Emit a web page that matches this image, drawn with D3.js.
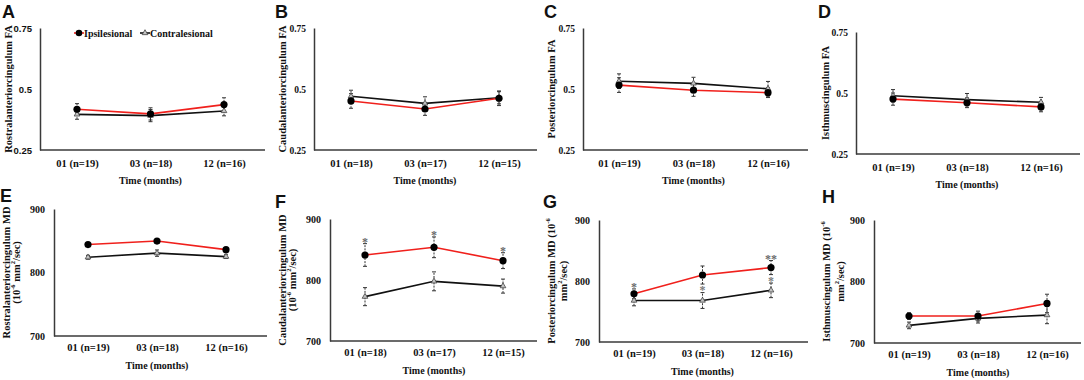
<!DOCTYPE html>
<html><head><meta charset="utf-8">
<script src="https://cdn.jsdelivr.net/npm/d3@7"></script>
<style>body{margin:0;background:#fff}svg{display:block}</style>
</head><body>
<script>
// ---------- data ----------
const catsA = ["01 (n=19)", "03 (n=18)", "12 (n=16)"];
const catsB = ["01 (n=18)", "03 (n=17)", "12 (n=15)"];
const faTicks = [0.25, 0.5, 0.75];
const mdTicks = [700, 800, 900];
const seriesNames = ["Ipsilesional", "Contralesional"];

const ipsiA = [0.417, 0.398, 0.436], contraA = [0.396, 0.391, 0.410];
const ipsiErrA = [0.023, 0.025, 0.028], contraErrA = [0.020, 0.025, 0.020];
const ipsiB = [0.451, 0.418, 0.462], contraB = [0.470, 0.441, 0.464];
const ipsiErrB = [0.030, 0.026, 0.030], contraErrB = [0.025, 0.027, 0.025];
const ipsiC = [0.516, 0.495, 0.485], contraC = [0.532, 0.523, 0.501];
const ipsiErrC = [0.030, 0.025, 0.020], contraErrC = [0.030, 0.025, 0.030];
const ipsiD = [0.475, 0.460, 0.443], contraD = [0.489, 0.473, 0.462];
const ipsiErrD = [0.025, 0.020, 0.020], contraErrD = [0.025, 0.025, 0.020];
const ipsiE = [844, 849.5, 836], contraE = [824, 830.5, 825];
const ipsiErrE = [3, 3, 3], contraErrE = [3, 5, 3];
const ipsiF = [841, 853.6, 831.7], contraF = [772.7, 797.8, 790];
const ipsiErrF = [18.6, 17, 13], contraErrF = [14.8, 15.5, 11.5];
const ipsiG = [779, 809.8, 822], contraG = [768, 768, 784.7];
const ipsiErrG = [8, 14.8, 11.5], contraErrG = [8.7, 13, 12];
const ipsiH = [743.8, 743.8, 764.3], contraH = [728.6, 740, 745.4];
const ipsiErrH = [5.4, 8, 15], contraErrH = [5.4, 7.5, 14];

const sigAboveF = ["*", "*", "*"];
const sigAboveG = ["*", "", "**"];
const sigBelowG = ["", "*", "*"];

const titleA = ["Rostralanteriorcingulum FA"];
const titleB = ["Caudalanteriorcingulum FA"];
const titleC = ["Posteriorcingulum FA"];
const titleD = ["Isthmuscingulum FA"];
const titleE = ["Rostralanteriorcingulum MD", "(10|-6| mm|2|/sec)"];
const titleF = ["Caudalanteriorcingulum MD", "(10|-6| mm|2|/sec)"];
const titleG = ["Posteriorcingulum MD (10|-6|", "mm|2|/sec)"];
const titleH = ["Isthmuscingulum MD (10|-6|", "mm|2|/sec)"];

// ---------- layout ----------
const panels = [
  {L:"A", lx:2, ly:18, x0:40, xEnd:265, yTop:28, yBot:150, first:37, step:73.5, cats:catsA, ticks:faTicks, ipsi:ipsiA, contra:contraA, ie:ipsiErrA, ce:contraErrA, title:titleA, tx:[8], sans:true, legend:true},
  {L:"B", lx:275, ly:18, x0:314, xEnd:537, yTop:28, yBot:150, first:37, step:74, cats:catsB, ticks:faTicks, ipsi:ipsiB, contra:contraB, ie:ipsiErrB, ce:contraErrB, title:titleB, tx:[282]},
  {L:"C", lx:544, ly:18, x0:583, xEnd:808, yTop:28, yBot:150, first:36, step:74.5, cats:catsA, ticks:faTicks, ipsi:ipsiC, contra:contraC, ie:ipsiErrC, ce:contraErrC, title:titleC, tx:[551]},
  {L:"D", lx:818, ly:18, x0:856, xEnd:1080, yTop:32, yBot:154, first:37, step:74, cats:catsA, ticks:faTicks, ipsi:ipsiD, contra:contraD, ie:ipsiErrD, ce:contraErrD, title:titleD, tx:[825]},
  {L:"E", lx:0, ly:202, x0:54, xEnd:267, yTop:209, yBot:336, first:34, step:69, cats:catsA, ticks:mdTicks, ipsi:ipsiE, contra:contraE, ie:ipsiErrE, ce:contraErrE, title:titleE, tx:[6,16]},
  {L:"F", lx:275, ly:208, x0:330, xEnd:537, yTop:219, yBot:341, first:35, step:69, cats:catsB, ticks:mdTicks, ipsi:ipsiF, contra:contraF, ie:ipsiErrF, ce:contraErrF, title:titleF, tx:[282,292], above:sigAboveF},
  {L:"G", lx:543, ly:208, x0:599, xEnd:808, yTop:220, yBot:342, first:35, step:68.5, cats:catsA, ticks:mdTicks, ipsi:ipsiG, contra:contraG, ie:ipsiErrG, ce:contraErrG, title:titleG, tx:[551,563], above:sigAboveG, below:sigBelowG},
  {L:"H", lx:822, ly:203, x0:874, xEnd:1081, yTop:220, yBot:343, first:35, step:69, cats:catsA, ticks:mdTicks, ipsi:ipsiH, contra:contraH, ie:ipsiErrH, ce:contraErrH, title:titleH, tx:[826,840]}
];

const RED = "#f0201c", BLK = "#111", AX = "#3a3a3a";
const SERIF = "'Liberation Serif','Times New Roman',serif";
const SANS = "'Liberation Sans',Arial,sans-serif";

const svg = d3.select("body").append("svg").attr("width", 1084).attr("height", 380);

function addRich(textSel, str) {
  const parts = str.split("|");
  parts.forEach((p, i) => {
    if (!p) return;
    const sup = i % 2 === 1;
    const t = textSel.append("tspan").text(p);
    if (sup) t.attr("font-size", 6.5).attr("dy", -4);
    else if (i > 0) t.attr("dy", 4);
  });
}

panels.forEach(p => {
  const g = svg.append("g");
  const x = d3.scalePoint().domain(p.cats).range([p.x0 + p.first, p.x0 + p.first + 2 * p.step]);
  const y = d3.scaleLinear().domain([p.ticks[0], p.ticks[2]]).range([p.yBot, p.yTop]);
  const isFA = p.ticks === faTicks;

  svg.append("text").attr("x", p.lx).attr("y", p.ly).text(p.L)
    .attr("font-family", SANS).attr("font-weight", "bold").attr("font-size", 18).attr("fill", "#111");

  const ya = g.append("g").attr("transform", `translate(${p.x0},0)`)
    .call(d3.axisLeft(y).tickValues(p.ticks).tickSize(0).tickPadding(isFA ? 8 : 9).tickFormat(d => String(d)));
  ya.select(".domain").attr("stroke", AX).attr("stroke-width", 1.5);
  ya.selectAll("text").attr("font-family", p.sans ? SANS : SERIF).attr("font-weight", "bold")
    .attr("font-size", p.sans ? 9.5 : (isFA ? 9.5 : 10)).attr("fill", "#111");

  const xa = g.append("g").attr("transform", `translate(0,${p.yBot})`)
    .call(d3.axisBottom(x).tickSize(0).tickPadding(isFA ? 9.5 : 8));
  xa.select(".domain").remove();
  xa.selectAll("text").attr("font-family", SERIF).attr("font-weight", "bold").attr("font-size", 10.5).attr("fill", "#111");
  g.append("line").attr("x1", p.x0).attr("x2", p.xEnd).attr("y1", p.yBot).attr("y2", p.yBot)
    .attr("stroke", AX).attr("stroke-width", 1.5);

  g.append("text").attr("x", x(p.cats[1])).attr("y", p.yBot + (isFA ? 34 : 33)).attr("text-anchor", "middle")
    .attr("font-family", SERIF).attr("font-weight", "bold").attr("font-size", 10).attr("fill", "#111")
    .text("Time (months)");

  const ymid = (p.yTop + p.yBot) / 2;
  p.title.forEach((line, i) => {
    const t = g.append("text").attr("transform", `translate(${p.tx[i]},${ymid}) rotate(-90)`)
      .attr("text-anchor", "middle").attr("dominant-baseline", "central")
      .attr("font-family", SERIF).attr("font-weight", "bold").attr("font-size", 10.5).attr("fill", "#111");
    addRich(t, line);
  });

  const idx = [0, 1, 2];
  const line = d3.line().x(i => x(p.cats[i]));

  g.append("path").attr("d", line.y(i => y(p.contra[i]))(idx)).attr("fill", "none").attr("stroke", BLK).attr("stroke-width", 1.6);
  g.append("path").attr("d", line.y(i => y(p.ipsi[i]))(idx)).attr("fill", "none").attr("stroke", RED).attr("stroke-width", 1.6);

  [[p.contra, p.ce], [p.ipsi, p.ie]].forEach(([v, e]) => {
    idx.forEach(i => {
      const cx = x(p.cats[i]);
      g.append("line").attr("x1", cx).attr("x2", cx).attr("y1", y(v[i] - e[i])).attr("y2", y(v[i] + e[i]))
        .attr("stroke", "#333").attr("stroke-width", 1).attr("stroke-dasharray", "2,1.2");
      [v[i] - e[i], v[i] + e[i]].forEach(val => {
        g.append("line").attr("x1", cx - 2).attr("x2", cx + 2).attr("y1", y(val)).attr("y2", y(val))
          .attr("stroke", "#333").attr("stroke-width", 1);
      });
    });
  });

  idx.forEach(i => {
    g.append("path").attr("d", d3.symbol(d3.symbolTriangle, 14)())
      .attr("transform", `translate(${x(p.cats[i])},${y(p.contra[i])})`)
      .attr("fill", "#c4c4c4").attr("stroke", "#444").attr("stroke-width", 0.8);
  });
  idx.forEach(i => {
    g.append("circle").attr("cx", x(p.cats[i])).attr("cy", y(p.ipsi[i])).attr("r", 3.6).attr("fill", "#000");
  });

  if (p.above) idx.forEach(i => {
    if (!p.above[i]) return;
    g.append("text").attr("x", x(p.cats[i])).attr("y", y(p.ipsi[i] + p.ie[i]) + 2)
      .attr("text-anchor", "middle").attr("font-family", SERIF).attr("font-weight", "bold")
      .attr("font-size", 12).attr("fill", "#6a6a6a").text(p.above[i]);
  });
  if (p.below) idx.forEach(i => {
    if (!p.below[i]) return;
    g.append("text").attr("x", x(p.cats[i])).attr("y", y(p.ipsi[i] - p.ie[i]) + 10)
      .attr("text-anchor", "middle").attr("font-family", SERIF).attr("font-weight", "bold")
      .attr("font-size", 12).attr("fill", "#7a7a7a").text(p.below[i]);
  });

  if (p.legend) {
    const ly = 33;
    const lg = g.append("g");
    lg.append("line").attr("x1", 74).attr("x2", 84).attr("y1", ly).attr("y2", ly).attr("stroke", RED).attr("stroke-width", 1.6);
    lg.append("circle").attr("cx", 79).attr("cy", ly).attr("r", 3.3).attr("fill", "#000");
    lg.append("text").attr("x", 84).attr("y", ly).attr("dominant-baseline", "central")
      .attr("font-family", SERIF).attr("font-weight", "bold").attr("font-size", 10).attr("fill", "#111").text(seriesNames[0]);
    lg.append("line").attr("x1", 140).attr("x2", 150).attr("y1", ly).attr("y2", ly).attr("stroke", BLK).attr("stroke-width", 1.6);
    lg.append("path").attr("d", d3.symbol(d3.symbolTriangle, 14)()).attr("transform", `translate(145,${ly})`)
      .attr("fill", "#c4c4c4").attr("stroke", "#444").attr("stroke-width", 0.8);
    lg.append("text").attr("x", 150).attr("y", ly).attr("dominant-baseline", "central")
      .attr("font-family", SERIF).attr("font-weight", "bold").attr("font-size", 10).attr("fill", "#111").text(seriesNames[1]);
  }
});
</script>
</body></html>
